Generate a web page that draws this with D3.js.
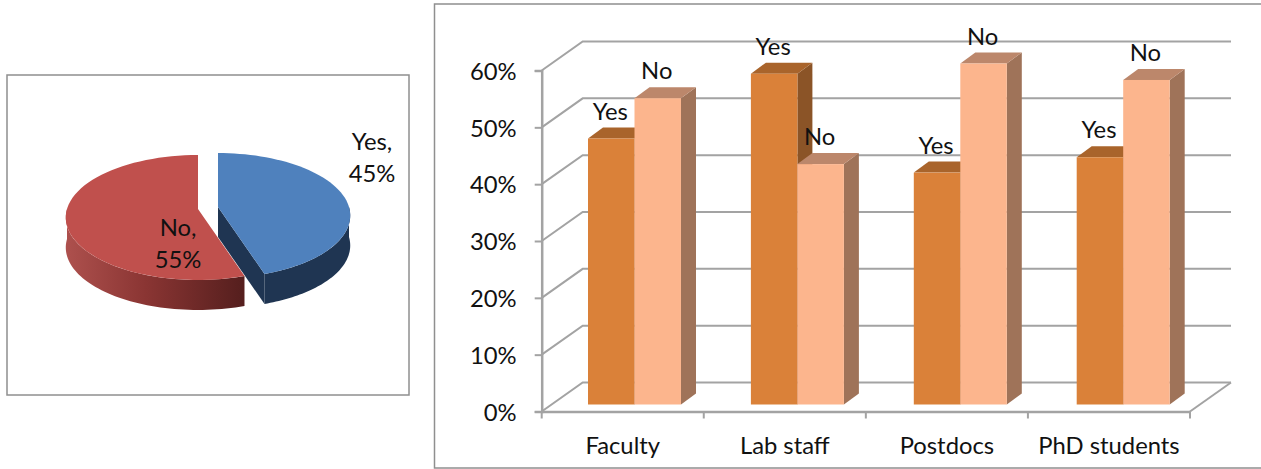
<!DOCTYPE html>
<html>
<head>
<meta charset="utf-8">
<script src="https://cdn.jsdelivr.net/npm/d3@7/dist/d3.min.js"></script>
<style>
  html, body { margin: 0; padding: 0; background: #fff; }
  svg { display: block; }
  text { font-family: Lato, "Open Sans", sans-serif; font-size: 23.8px; fill: #111; }
</style>
</head>
<body>
<svg id="chart" width="1261" height="469"></svg>
<script>
// Overall response split
const pieLabels = ["Yes", "No"];
const pieValues = [45, 55];

// Response split by staff group
const categories = ["Faculty", "Lab staff", "Postdocs", "PhD students"];
const seriesNames = ["Yes", "No"];
const yesValues = [0.468, 0.582, 0.408, 0.435];
const noValues = [0.539, 0.423, 0.600, 0.571];
const yTicks = [0, 0.1, 0.2, 0.3, 0.4, 0.5, 0.6];

const svg = d3.select("#chart");
const defs = svg.append("defs");

// Frames around the two charts
const frameColor = "#8f8f8f";
svg.append("rect").attr("x", 7).attr("y", 75).attr("width", 402).attr("height", 320)
  .attr("fill", "none").attr("stroke", frameColor).attr("stroke-width", 1.5);
svg.append("rect").attr("x", 434.5).attr("y", 4).attr("width", 840).attr("height", 464)
  .attr("fill", "none").attr("stroke", frameColor).attr("stroke-width", 1.5);

/* ---------- 3D pie ---------- */
const pieColors = { Yes: { top: "#4f81bd", wall: "#1f3552" }, No: { top: "#c0504d" } };
const pieDepth = 30;
const radiusX = 131, radiusY = 61.3, perspective = 0.136;
const origins = { Yes: [218, 207], No: [198, 209] };

// Projects a pie angle (clockwise from the back of the disc) onto the tilted disc
const project = (origin, a) => {
  const w = 1 + perspective * Math.cos(a);
  return [origin[0] + radiusX * Math.sin(a) / w, origin[1] - radiusY * Math.cos(a) / w];
};
const sampleArc = (origin, a0, a1) =>
  d3.range(0, 61).map(i => project(origin, a0 + (a1 - a0) * i / 60));

const redWall = defs.append("linearGradient").attr("id", "noWall")
  .attr("gradientUnits", "userSpaceOnUse").attr("x1", 67).attr("x2", 242).attr("y1", 0).attr("y2", 0);
redWall.append("stop").attr("offset", 0).attr("stop-color", "#ad504d");
redWall.append("stop").attr("offset", 0.45).attr("stop-color", "#8a3533");
redWall.append("stop").attr("offset", 1).attr("stop-color", "#561f1e");

const pieLine = d3.line();
const slices = d3.pie().sort(null)(pieValues);
const pieLayer = svg.append("g");

slices.forEach((s, i) => {
  const name = pieLabels[i];
  const origin = origins[name];
  const down = p => [p[0], p[1] + pieDepth];

  // Outer rim: only the part of the slice facing the viewer
  const rimFrom = Math.max(s.startAngle, Math.PI / 2);
  const rimTo = Math.min(s.endAngle, 3 * Math.PI / 2);
  const rim = sampleArc(origin, rimFrom, rimTo);
  pieLayer.append("path")
    .attr("d", pieLine(rim.concat(rim.slice().reverse().map(down))) + "Z")
    .attr("fill", name === "No" ? "url(#noWall)" : pieColors.Yes.wall);

  // Cut face on the slice whose edge turns toward the viewer
  if (name === "Yes") {
    const end = project(origin, s.endAngle);
    pieLayer.append("path")
      .attr("d", pieLine([origin, end, down(end), down(origin)]) + "Z")
      .attr("fill", pieColors.Yes.wall);
  }

  pieLayer.append("path")
    .attr("d", pieLine([origin].concat(sampleArc(origin, s.startAngle, s.endAngle))) + "Z")
    .attr("fill", pieColors[name].top);
});

const pieLabelPos = { Yes: [372, 149.5], No: [178, 235.5] };
pieLabels.forEach((name, i) => {
  const [x, y] = pieLabelPos[name];
  const t = svg.append("text").attr("text-anchor", "middle");
  t.append("tspan").attr("x", x).attr("y", y).text(name + ",");
  t.append("tspan").attr("x", x).attr("y", y + 32).text(pieValues[i] + "%");
});

/* ---------- 3D clustered bars ---------- */
const gridColor = "#a3a3a3";
const x = d3.scaleBand().domain(categories).range([541.7, 1190]);
const y = d3.scaleLinear().domain([0, 0.6]).range([411.5, 70.5]);
const wallShift = [41, -29];

// Back wall and left wall
const grid = svg.append("g").attr("fill", "none").attr("stroke", gridColor).attr("stroke-width", 2);
yTicks.forEach(v => {
  const front = [x.range()[0], y(v)];
  const back = [front[0] + wallShift[0], front[1] + wallShift[1]];
  grid.append("path").attr("d", d3.line()([front, back, [x.range()[1] + wallShift[0], back[1]]]));
});
// Floor edge on the right
grid.append("path").attr("d", d3.line()([
  [x.range()[1], y(0)],
  [x.range()[1] + wallShift[0], y(0) + wallShift[1]]
]));

const yAxis = d3.axisLeft(y).tickValues(yTicks).tickFormat(d3.format(".0%")).tickSize(7).tickPadding(18);
const xAxis = d3.axisBottom(x).tickValues([]).tickSizeOuter(0);

const yG = svg.append("g").attr("transform", `translate(${x.range()[0]},0)`).call(yAxis);
const xG = svg.append("g").attr("transform", `translate(0,${y(0)})`).call(xAxis);
xG.select(".domain").attr("stroke", gridColor).attr("stroke-width", 2.5);
yG.select(".domain").attr("stroke", gridColor).attr("stroke-width", 2.5);
yG.selectAll(".tick line").attr("stroke", gridColor).attr("stroke-width", 2);
yG.selectAll(".tick text").attr("dy", "0.37em");

// Category boundaries and names
const tickPositions = categories.map(c => x(c)).concat(x.range()[1]);
svg.append("g").selectAll("line").data(tickPositions).join("line")
  .attr("x1", d => d).attr("x2", d => d)
  .attr("y1", y(0)).attr("y2", y(0) + 7)
  .attr("stroke", gridColor).attr("stroke-width", 2);
svg.append("g").selectAll("text").data(categories).join("text")
  .attr("text-anchor", "middle")
  .attr("x", d => x(d) + x.bandwidth() / 2)
  .attr("y", 454)
  .text(d => d);

// Bars sit slightly forward of the wall, so their bands run on their own scale
const barFaces = {
  Yes: { front: "#da8139", top: "#a9642b", side: "#8b5427" },
  No: { front: "#fcb58d", top: "#bc876b", side: "#9f7359" }
};
const barBand = d3.scaleBand().domain(categories).range([588, 588 + 4 * 162.9]);
const inner = d3.scaleBand().domain(seriesNames).range([0, 93]);
const seriesValues = { Yes: yesValues, No: noValues };
const barLift = 7, sideX = 15, sideY = -11;
const poly = pts => d3.line()(pts) + "Z";

const bars = svg.append("g");
const barLabels = svg.append("g");
categories.forEach((cat, ci) => {
  seriesNames.forEach(name => {
    const v = seriesValues[name][ci];
    const left = barBand(cat) + inner(name);
    const right = left + inner.bandwidth();
    const top = y(v) - barLift;
    const bottom = y(0) - barLift;
    const faces = barFaces[name];

    bars.append("path").attr("fill", faces.side).attr("d", poly([
      [right, top], [right + sideX, top + sideY],
      [right + sideX, bottom + sideY], [right, bottom]
    ]));
    bars.append("path").attr("fill", faces.top).attr("d", poly([
      [left, top], [left + sideX, top + sideY],
      [right + sideX, top + sideY], [right, top]
    ]));
    bars.append("rect").attr("fill", faces.front)
      .attr("x", left).attr("y", top)
      .attr("width", inner.bandwidth()).attr("height", bottom - top);

    barLabels.append("text").attr("text-anchor", "middle")
      .attr("x", (left + right) / 2 - 1)
      .attr("y", top - 19)
      .text(name);
  });
});
</script>
</body>
</html>
